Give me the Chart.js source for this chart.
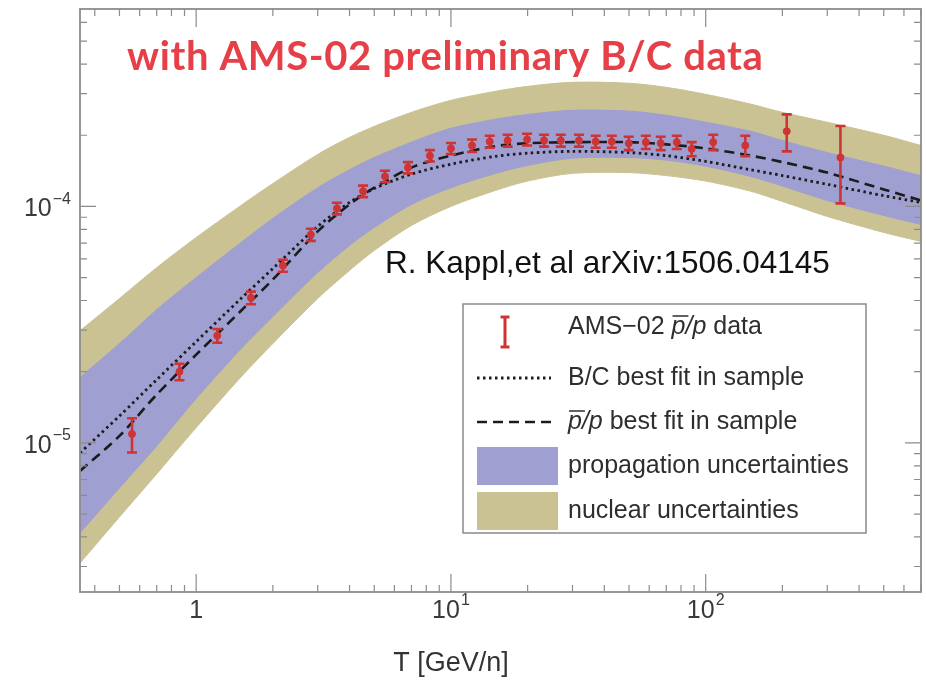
<!DOCTYPE html>
<html>
<head>
<meta charset="utf-8">
<title>AMS-02 antiproton to proton ratio</title>
<script src="https://cdn.jsdelivr.net/npm/chart.js@4.4.1/dist/chart.umd.min.js"></script>
<style>
  html, body { margin: 0; padding: 0; background: #fff; }
  canvas { display: block; }
</style>
</head>
<body>
<canvas id="ratioChart" width="926" height="686"></canvas>
<script>
// AMS-02 pbar/p points: kinetic energy per nucleon (GeV/n), ratio and 1-sigma error
const dataEnergy = [0.56, 0.86, 1.21, 1.64, 2.19, 2.82, 3.57, 4.52, 5.51, 6.78, 8.27, 10.0, 12.1, 14.2, 16.7,
  19.9, 23.2, 27.0, 31.8, 37.0, 42.8, 49.9, 58.2, 66.6, 77.0, 88.1, 107, 143, 208, 338];
const dataRatio = [1.09e-5, 2.00e-5, 2.84e-5, 4.11e-5, 5.62e-5, 7.60e-5, 9.81e-5, 1.16e-4, 1.34e-4, 1.46e-4,
  1.64e-4, 1.76e-4, 1.81e-4, 1.88e-4, 1.90e-4, 1.92e-4, 1.90e-4, 1.90e-4, 1.90e-4, 1.88e-4,
  1.88e-4, 1.85e-4, 1.87e-4, 1.85e-4, 1.87e-4, 1.75e-4, 1.87e-4, 1.81e-4, 2.08e-4, 1.61e-4];
const dataError = [0.18e-5, 0.16e-5, 0.19e-5, 0.25e-5, 0.33e-5, 0.45e-5, 0.55e-5, 0.065e-4, 0.075e-4, 0.08e-4,
  0.09e-4, 0.095e-4, 0.11e-4, 0.11e-4, 0.11e-4, 0.11e-4, 0.11e-4, 0.11e-4, 0.11e-4, 0.11e-4,
  0.11e-4, 0.12e-4, 0.12e-4, 0.12e-4, 0.12e-4, 0.12e-4, 0.14e-4, 0.18e-4, 0.37e-4, 0.58e-4];

// model curves and uncertainty bands on a common energy grid
const modelEnergy = [0.35, 0.5, 0.7, 1, 1.5, 2, 3, 4, 5, 7, 10, 15, 20, 30, 50, 70, 100, 150, 200, 300, 500, 700];
const pbarFit = [7.61e-6, 1.07e-5, 1.60e-5, 2.36e-5, 3.62e-5, 4.91e-5, 7.84e-5, 1.02e-4, 1.20e-4, 1.46e-4, 1.64e-4,
  1.80e-4, 1.85e-4, 1.87e-4, 1.87e-4, 1.83e-4, 1.76e-4, 1.64e-4, 1.54e-4, 1.39e-4, 1.18e-4, 1.06e-4];
const bcFit = [9.07e-6, 1.30e-5, 1.85e-5, 2.68e-5, 4.08e-5, 5.46e-5, 8.23e-5, 1.04e-4, 1.19e-4, 1.37e-4, 1.51e-4,
  1.63e-4, 1.68e-4, 1.71e-4, 1.69e-4, 1.64e-4, 1.55e-4, 1.43e-4, 1.35e-4, 1.24e-4, 1.11e-4, 1.04e-4];
const propUpper = [1.89e-5, 2.63e-5, 3.66e-5, 5.00e-5, 7.04e-5, 8.90e-5, 1.20e-4, 1.43e-4, 1.61e-4, 1.87e-4, 2.14e-4,
  2.34e-4, 2.45e-4, 2.55e-4, 2.53e-4, 2.43e-4, 2.27e-4, 2.08e-4, 1.90e-4, 1.69e-4, 1.48e-4, 1.35e-4];
const propLower = [4.16e-6, 6.45e-6, 9.71e-6, 1.54e-5, 2.50e-5, 3.42e-5, 5.25e-5, 6.84e-5, 8.15e-5, 1.02e-4, 1.20e-4,
  1.38e-4, 1.49e-4, 1.60e-4, 1.61e-4, 1.57e-4, 1.48e-4, 1.34e-4, 1.22e-4, 1.06e-4, 9.16e-5, 8.39e-5];
const nucUpper = [2.98e-5, 4.08e-5, 5.51e-5, 7.39e-5, 1.01e-4, 1.25e-4, 1.66e-4, 1.96e-4, 2.18e-4, 2.50e-4, 2.81e-4,
  3.07e-4, 3.22e-4, 3.35e-4, 3.32e-4, 3.19e-4, 2.98e-4, 2.71e-4, 2.50e-4, 2.27e-4, 2.00e-4, 1.81e-4];
const nucLower = [3.10e-6, 4.86e-6, 7.39e-6, 1.16e-5, 1.90e-5, 2.63e-5, 4.08e-5, 5.36e-5, 6.51e-5, 8.31e-5, 1.00e-4,
  1.17e-4, 1.28e-4, 1.38e-4, 1.39e-4, 1.35e-4, 1.28e-4, 1.16e-4, 1.05e-4, 9.07e-5, 7.76e-5, 7.11e-5];

// labelled ticks: [value, mantissa text, exponent text]
const xTickLabels = [[1, '1', ''], [10, '10', '1'], [100, '10', '2']];
const yTickLabels = [[1e-5, '10', '\u22125'], [1e-4, '10', '\u22124']];

const amsRed = '#cf3434';
const lineBlack = '#1c1c1c';
const propFill = '#9f9fd2';
const nucFill = '#cac293';
const frameColor = '#8c8c8c';
const labelFont = 'Liberation Sans';

const xy = (xs, ys) => xs.map((x, i) => ({ x: x, y: ys[i] }));

// every k*10^n inside the axis range, k = 1 flags a decade
function logTicks(min, max) {
  const out = [];
  for (let e = Math.floor(Math.log10(min)); e <= Math.ceil(Math.log10(max)); e++) {
    for (let k = 1; k <= 9; k++) {
      const v = k * Math.pow(10, e);
      if (v >= min && v <= max) out.push({ v: v, major: k === 1 });
    }
  }
  return out;
}

function powerLabel(ctx, base, exp, x, y, align) {
  ctx.font = '25px ' + labelFont;
  const wb = ctx.measureText(base).width;
  ctx.font = '16px ' + labelFont;
  const we = exp ? ctx.measureText(exp).width + 1 : 0;
  let left = x;
  if (align === 'center') left = x - (wb + we) / 2;
  if (align === 'right') left = x - wb - we;
  ctx.textAlign = 'left';
  ctx.textBaseline = 'middle';
  ctx.font = '25px ' + labelFont;
  ctx.fillText(base, left, y);
  if (exp) {
    ctx.font = '16px ' + labelFont;
    ctx.fillText(exp, left + wb + 1, y - 10);
  }
}

// frame with inward ticks on all four sides, plus the decade labels and axis title
const framePlugin = {
  id: 'frame',
  afterDraw(chart) {
    const { ctx, chartArea: a, scales: { x, y } } = chart;
    ctx.save();
    ctx.strokeStyle = frameColor;
    ctx.lineWidth = 1.2;
    ctx.beginPath();
    logTicks(x.min, x.max).forEach(t => {
      const px = x.getPixelForValue(t.v);
      const len = t.major ? 18 : 7;
      ctx.moveTo(px, a.bottom); ctx.lineTo(px, a.bottom - len);
      ctx.moveTo(px, a.top); ctx.lineTo(px, a.top + len);
    });
    logTicks(y.min, y.max).forEach(t => {
      const py = y.getPixelForValue(t.v);
      const len = t.major ? 16 : 7;
      ctx.moveTo(a.left, py); ctx.lineTo(a.left + len, py);
      ctx.moveTo(a.right, py); ctx.lineTo(a.right - len, py);
    });
    ctx.stroke();
    ctx.lineWidth = 1.8;
    ctx.strokeRect(a.left, a.top, a.right - a.left, a.bottom - a.top);

    ctx.fillStyle = '#3a3a3a';
    xTickLabels.forEach(([v, b, e]) => powerLabel(ctx, b, e, x.getPixelForValue(v), a.bottom + 19, 'center'));
    yTickLabels.forEach(([v, b, e]) => powerLabel(ctx, b, e, a.left - 9, y.getPixelForValue(v) + 3, 'right'));

    ctx.fillStyle = '#333';
    ctx.font = '27px ' + labelFont;
    ctx.textAlign = 'center';
    ctx.textBaseline = 'middle';
    ctx.fillText('T [GeV/n]', x.getPixelForValue(10), 664);
    ctx.restore();
  }
};

// vertical error bars with caps for the AMS-02 points
function iBeam(ctx, px, top, bot, cap) {
  ctx.beginPath();
  ctx.moveTo(px, top); ctx.lineTo(px, bot);
  ctx.moveTo(px - cap / 2, top); ctx.lineTo(px + cap / 2, top);
  ctx.moveTo(px - cap / 2, bot); ctx.lineTo(px + cap / 2, bot);
  ctx.stroke();
}

const errorBarPlugin = {
  id: 'errorBars',
  afterDatasetsDraw(chart) {
    const { ctx, scales: { x, y } } = chart;
    ctx.save();
    ctx.strokeStyle = amsRed;
    ctx.lineWidth = 2.6;
    dataEnergy.forEach((e, i) => {
      const px = x.getPixelForValue(e);
      iBeam(ctx, px, y.getPixelForValue(dataRatio[i] + dataError[i]),
        y.getPixelForValue(dataRatio[i] - dataError[i]), 10);
    });
    ctx.restore();
  }
};

// text with italic p and an overlined p (antiproton)
function richText(ctx, parts, x, y) {
  let cx = x;
  parts.forEach(p => {
    ctx.font = (p.italic ? 'italic ' : '') + '25px ' + labelFont;
    const w = ctx.measureText(p.t).width;
    ctx.fillText(p.t, cx, y);
    if (p.bar) {
      ctx.save();
      ctx.lineWidth = 1.5;
      ctx.strokeStyle = ctx.fillStyle;
      ctx.beginPath();
      ctx.moveTo(cx + 1, y - 11); ctx.lineTo(cx + w + 3, y - 11);
      ctx.stroke();
      ctx.restore();
    }
    cx += w;
  });
}

const legendPlugin = {
  id: 'legendBox',
  afterDraw(chart) {
    const { ctx } = chart;
    const ds = chart.data.datasets;
    const box = { l: 463, t: 304, r: 866, b: 533 };
    const tx = 568;
    ctx.save();
    ctx.fillStyle = '#fff';
    ctx.fillRect(box.l, box.t, box.r - box.l, box.b - box.t);
    ctx.strokeStyle = '#8a8a8a';
    ctx.lineWidth = 1.5;
    ctx.strokeRect(box.l, box.t, box.r - box.l, box.b - box.t);

    ctx.strokeStyle = amsRed;
    ctx.lineWidth = 3;
    iBeam(ctx, 505, 317, 347, 9);

    ctx.lineCap = 'butt';
    [[ds[2], 378], [ds[1], 422]].forEach(([d, ly]) => {
      ctx.strokeStyle = d.borderColor;
      ctx.lineWidth = d.borderWidth;
      ctx.setLineDash(d.borderDash);
      ctx.beginPath();
      ctx.moveTo(477, ly); ctx.lineTo(551, ly);
      ctx.stroke();
    });
    ctx.setLineDash([]);

    ctx.fillStyle = ds[3].backgroundColor;
    ctx.fillRect(477, 447, 81, 38);
    ctx.fillStyle = ds[5].backgroundColor;
    ctx.fillRect(477, 492, 81, 38);

    ctx.fillStyle = '#2e2e2e';
    ctx.textBaseline = 'middle';
    ctx.textAlign = 'left';
    richText(ctx, [{ t: 'AMS\u221202 ' }, { t: 'p', italic: true, bar: true }, { t: '/', italic: true },
      { t: 'p', italic: true }, { t: ' data' }], tx, 327);
    richText(ctx, [{ t: ds[2].label }], tx, 378);
    richText(ctx, [{ t: 'p', italic: true, bar: true }, { t: '/', italic: true }, { t: 'p', italic: true },
      { t: ' best fit in sample' }], tx, 422);
    richText(ctx, [{ t: ds[3].label }], tx, 466);
    richText(ctx, [{ t: ds[5].label }], tx, 511);
    ctx.restore();
  }
};

const notePlugin = {
  id: 'notes',
  afterDraw(chart) {
    const { ctx } = chart;
    ctx.save();
    ctx.textAlign = 'left';
    ctx.textBaseline = 'alphabetic';
    ctx.fillStyle = '#e63f47';
    ctx.font = 'bold 40px Lato';
    ctx.letterSpacing = '0.6px';
    ctx.fillText('with AMS-02 preliminary B/C data', 127, 70);
    ctx.letterSpacing = '0px';
    ctx.fillStyle = '#111';
    ctx.font = '31.5px ' + labelFont;
    ctx.fillText('R. Kappl,et al arXiv:1506.04145', 385, 273);
    ctx.restore();
  }
};

const band = (label, values, color, fill) => ({
  label: label,
  data: xy(modelEnergy, values),
  showLine: true,
  fill: fill,
  backgroundColor: color,
  borderColor: color,
  borderWidth: 1,
  pointRadius: 0,
  tension: 0.3
});

new Chart(document.getElementById('ratioChart'), {
  type: 'scatter',
  data: {
    datasets: [
      {
        label: 'AMS\u221202 p\u0304/p data',
        data: xy(dataEnergy, dataRatio),
        backgroundColor: amsRed,
        borderColor: amsRed,
        pointRadius: 3.5
      },
      {
        label: 'p\u0304/p best fit in sample',
        data: xy(modelEnergy, pbarFit),
        showLine: true,
        borderColor: lineBlack,
        borderWidth: 2.6,
        borderDash: [10, 6],
        pointRadius: 0,
        tension: 0.3
      },
      {
        label: 'B/C best fit in sample',
        data: xy(modelEnergy, bcFit),
        showLine: true,
        borderColor: lineBlack,
        borderWidth: 2.8,
        borderDash: [2.5, 3.5],
        pointRadius: 0,
        tension: 0.3
      },
      band('propagation uncertainties', propUpper, propFill, '+1'),
      band('propagation lower', propLower, propFill, false),
      band('nuclear uncertainties', nucUpper, nucFill, '+1'),
      band('nuclear lower', nucLower, nucFill, false)
    ]
  },
  options: {
    responsive: false,
    animation: false,
    devicePixelRatio: 1,
    layout: { padding: { top: 9, right: 4, left: 0, bottom: 0 } },
    plugins: { legend: { display: false }, tooltip: { enabled: false } },
    scales: {
      x: {
        type: 'logarithmic',
        min: 0.35,
        max: 700,
        grid: { display: false },
        border: { display: false },
        ticks: { display: false },
        afterFit(scale) { scale.height = 94; }
      },
      y: {
        type: 'logarithmic',
        min: 2.34e-6,
        max: 6.84e-4,
        grid: { display: false },
        border: { display: false },
        ticks: { display: false },
        afterFit(scale) { scale.width = 80; }
      }
    }
  },
  plugins: [errorBarPlugin, framePlugin, legendPlugin, notePlugin]
});
</script>
</body>
</html>
